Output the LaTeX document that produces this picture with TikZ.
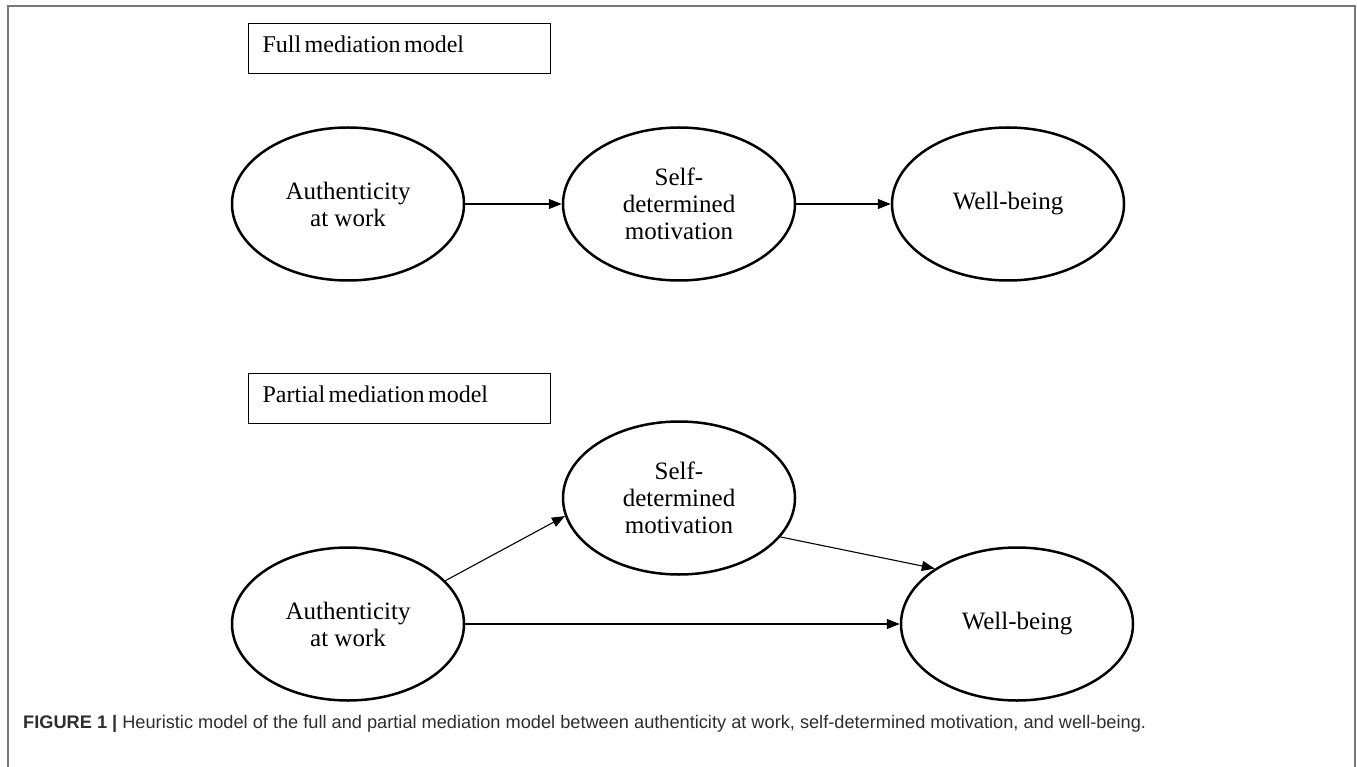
\documentclass[tikz,border=0pt]{standalone}
\usepackage{fontspec}
\setmainfont{Liberation Serif}
\newfontfamily\capfont{Liberation Sans}
\usetikzlibrary{arrows.meta, shapes.geometric}
\definecolor{framegray}{RGB}{120,120,120}
\definecolor{capgray}{RGB}{45,45,45}
\newcommand{\tightspaces}{\spaceskip=3.4pt plus 1pt\relax}

\begin{document}
\begin{tikzpicture}[x=1pt, y=-1pt,
		construct/.style={draw, ellipse, line width=2.5pt, minimum width=232pt, minimum height=153pt, inner sep=0pt, align=center, font=\fontsize{25}{27}\selectfont},
		modelbox/.style={draw, line width=1.3pt, anchor=north west, minimum width=302pt, text width=274pt, inner xsep=14pt, inner ysep=6pt, text height=23pt, text depth=15pt, align=left, font=\fontsize{24}{27}\selectfont, execute at begin node=\tightspaces},
		path/.style={line width=1.1pt, -{Triangle[length=13pt, width=10pt]}}]
				\useasboundingbox (0,0) rectangle (1357,767);
				\draw[framegray, line width=2pt] (8,767) -- (8,6) -- (1355,6) -- (1355,767);

				% full mediation
				\node[modelbox] (fullbox) at (248,23) {Full mediation model};
				\node[construct] (authA) at (348,204) {Authenticity\\at work};
				\node[construct] (motivA) at (679,204) {Self-\\determined\\motivation};
				\node[construct] (wellA) at (1008,204) {Well-being};

				\draw[path] (authA) -- (motivA);
				\draw[path] (motivA) -- (wellA);

				% partial mediation
				\node[modelbox] (partbox) at (248,373) {Partial mediation model};
				\node[construct] (motivB) at (679,498) {Self-\\determined\\motivation};
				\node[construct] (authB) at (348,624) {Authenticity\\at work};
				\node[construct] (wellB) at (1017,624) {Well-being};

				\draw[path] (authB.24.6) -- (motivB.-171.7);
				\draw[path] (motivB.-21) -- (wellB.146);
				\draw[path] (authB) -- (wellB);

				\node[anchor=base west, inner sep=0pt, font=\fontsize{18.2}{20}\capfont, text=capgray] (caption) at (23,728)
				{\textbf{FIGURE 1 |} Heuristic model of the full and partial mediation model between authenticity at work, self-determined motivation, and well-being.};
\end{tikzpicture}
\end{document}
